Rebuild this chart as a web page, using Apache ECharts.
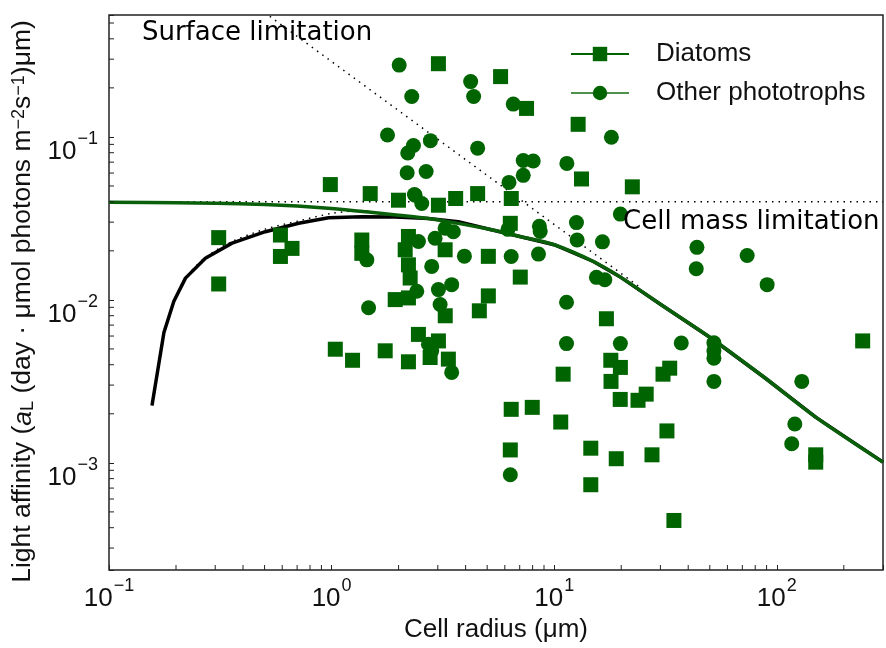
<!DOCTYPE html>
<html>
<head>
<meta charset="utf-8">
<script src="https://cdn.jsdelivr.net/npm/echarts@6/dist/echarts.min.js"></script>
<style>
  html, body { margin: 0; padding: 0; background: #fff; }
  #chart { width: 886px; height: 648px; }
</style>
</head>
<body>
<div id="chart"></div>
<script>
// axis limits (log axes)
var xMin = 0.1, xMax = 300;
var yMin = 2.2e-4, yMax = 0.56;

// minor tick positions
var xMinorTicks = [0.2, 0.3, 0.4, 0.5, 0.6, 0.7, 0.8, 0.9, 2, 3, 4, 5, 6, 7, 8, 9,
  20, 30, 40, 50, 60, 70, 80, 90, 200];
var yMinorTicks = [3e-4, 4e-4, 5e-4, 6e-4, 7e-4, 8e-4, 9e-4, 2e-3, 3e-3, 4e-3, 5e-3, 6e-3, 7e-3, 8e-3, 9e-3,
  2e-2, 3e-2, 4e-2, 5e-2, 6e-2, 7e-2, 8e-2, 9e-2, 0.2, 0.3, 0.4, 0.5];

// observations [cell radius, light affinity]
var diatoms = [
  [0.311, 0.0241], [0.311, 0.01252], [0.589, 0.0250], [0.589, 0.01847], [0.664, 0.0207],
  [0.987, 0.0510], [1.367, 0.0233], [1.367, 0.0193], [1.491, 0.0449], [2.214, 0.0245],
  [2.141, 0.0203], [2.214, 0.01641], [2.254, 0.01362], [1.931, 0.01004], [2.214, 0.01028],
  [3.236, 0.0203], [3.019, 0.0381], [1.997, 0.0409], [2.455, 0.00614], [3.019, 0.0056],
  [1.039, 0.00498], [1.242, 0.00426], [1.741, 0.00487], [2.214, 0.00417], [2.771, 0.00443],
  [3.346, 0.00433], [3.019, 0.2814], [5.743, 0.2345], [7.512, 0.1496], [12.81, 0.1195],
  [13.26, 0.0552], [22.44, 0.0494], [3.609, 0.0419], [4.530, 0.0449], [6.415, 0.0419],
  [17.16, 0.00766], [17.96, 0.00426], [19.83, 0.00385], [33.03, 0.00381], [30.82, 0.0035],
  [243.1, 0.0056], [10.97, 0.0035], [3.24, 0.00799], [4.61, 0.00857], [5.06, 0.01058],
  [5.06, 0.0185], [6.35, 0.0295], [6.41, 0.00213], [6.35, 0.0012], [7.04, 0.0138],
  [7.97, 0.00219], [10.7, 0.00178], [14.6, 0.00123], [14.6, 0.000734], [18.0, 0.00316],
  [19.8, 0.00245], [19.0, 0.00106], [23.8, 0.00242], [25.9, 0.00264], [27.5, 0.00112],
  [32.1, 0.00157], [34.5, 0.000443], [149.6, 0.00112], [149.6, 0.00101]
];
var others = [
  [2.012, 0.276], [2.291, 0.177], [4.214, 0.2186], [4.346, 0.177], [6.548, 0.159],
  [1.783, 0.1028], [2.332, 0.0885], [2.199, 0.0796], [2.779, 0.0949], [4.53, 0.0853],
  [7.26, 0.0717], [8.05, 0.0711], [11.40, 0.0688], [7.26, 0.0581], [2.185, 0.0603],
  [2.659, 0.0614], [6.265, 0.0526], [2.356, 0.0443], [18.07, 0.0996], [12.59, 0.0298],
  [12.68, 0.0233], [16.47, 0.0227], [19.83, 0.0336], [11.36, 0.00968], [15.48, 0.01375],
  [16.88, 0.0133], [43.78, 0.021], [43.46, 0.01552], [73.6, 0.01874], [90.5, 0.0124],
  [11.36, 0.00539], [19.83, 0.00539], [37.23, 0.00544], [52.18, 0.00546], [52.18, 0.00487],
  [52.18, 0.00439], [1.466, 0.00894], [2.373, 0.0439], [2.541, 0.039], [2.455, 0.0228],
  [2.817, 0.01605], [3.019, 0.01156], [3.463, 0.0124], [2.413, 0.0113], [3.072, 0.00936],
  [2.723, 0.00534], [2.817, 0.00487], [3.463, 0.00359], [3.236, 0.0275], [3.524, 0.0262],
  [2.917, 0.0239], [1.44, 0.0176], [3.95, 0.01855], [6.2, 0.0271], [6.41, 0.01847],
  [6.35, 0.000845], [8.5, 0.0191], [8.58, 0.02827], [8.65, 0.0263], [120.5, 0.00173],
  [116.7, 0.00131], [129.5, 0.00316], [52.18, 0.00316]
];

// model curves
var greenCurve = [
  [0.1, 0.0398], [0.2, 0.0395], [0.3, 0.0392], [0.5, 0.0385], [0.7, 0.0377], [1, 0.0364],
  [1.5, 0.0345], [2, 0.0331], [2.72, 0.0316], [3.5, 0.0299], [5, 0.0273], [7, 0.0245],
  [10, 0.0218], [15, 0.0172], [20, 0.0137], [30, 0.0094], [50, 0.0059], [88, 0.00334],
  [150, 0.0019], [300, 0.00101]
];
var blackCurve = [
  [0.156, 0.00225], [0.1765, 0.0063], [0.1956, 0.0098], [0.2206, 0.0136], [0.271, 0.018],
  [0.357, 0.0223], [0.504, 0.0262], [0.711, 0.0295], [0.969, 0.0319], [1.367, 0.0324],
  [1.93, 0.0322], [2.72, 0.0316], [3.71, 0.0302], [5, 0.0273], [7, 0.0245], [10, 0.0218],
  [15, 0.0172], [20, 0.0137], [30, 0.0094], [50, 0.0059], [88, 0.00334], [150, 0.0019],
  [300, 0.00101]
];
var dottedCurve = [
  [0.156, 0.00225], [0.1765, 0.0063], [0.1956, 0.0098], [0.2206, 0.0136], [0.271, 0.0182],
  [0.357, 0.0228], [0.5, 0.0271], [0.71, 0.0305], [1.0, 0.0339], [1.37, 0.0353], [1.5, 0.0348]
];
var surfaceLine = [[0.5, 0.58], [24.6, 0.0118]];
var massLine = [[0.1, 0.040], [300, 0.040]];

// annotation anchors
var annotations = [
  { name: 'Surface limitation', value: [0.1406, 0.4305] },
  { name: 'Cell mass limitation', value: [20.4, 0.0299] }
];

var green = '#006400';
var axisFont = 'Liberation Sans, Arial, Helvetica, sans-serif';

function powLabel(v) {
  var e = Math.log10(v);
  var r = Math.round(e);
  if (Math.abs(e - r) > 1e-6) return '';
  return '{b|10}{s|' + (r < 0 ? '\u2212' + (-r) : r) + '}';
}
var labelRich = {
  b: { fontSize: 26, lineHeight: 24, padding: [14, 0, 0, 0], verticalAlign: 'top', fontFamily: axisFont, color: '#111' },
  s: { fontSize: 18, lineHeight: 17, padding: [5, 0, 0, 1], verticalAlign: 'top', fontFamily: axisFont, color: '#111' }
};

var chart = echarts.init(document.getElementById('chart'));
chart.setOption({
  animation: false,
  backgroundColor: '#fff',
  grid: { left: 109, top: 15, width: 776, height: 558, show: true, borderColor: '#222', borderWidth: 1.5 },
  legend: {
    data: ['Diatoms', 'Other phototrophs'],
    orient: 'vertical',
    left: 565, top: 36,
    itemWidth: 58, itemHeight: 18, itemGap: 13,
    formatter: function (name) { return '{p|}' + name; },
    textStyle: {
      fontSize: 26, lineHeight: 26, fontFamily: axisFont, color: '#111',
      rich: { p: { width: 22 } }
    }
  },
  xAxis: {
    type: 'log', logBase: 10, min: xMin, max: xMax,
    name: 'Cell radius (\u03bcm)', nameLocation: 'middle', nameGap: 47,
    nameTextStyle: { fontSize: 26, fontFamily: axisFont, color: '#111' },
    axisLine: { show: false },
    axisTick: { inside: true, length: 5, lineStyle: { color: '#222', width: 1 } },
    splitLine: { show: false },
    axisLabel: { margin: 2, formatter: powLabel, rich: labelRich, showMinLabel: true, showMaxLabel: true }
  },
  yAxis: {
    type: 'log', logBase: 10, min: yMin, max: yMax,
    name: 'Light affinity ({i|a}{sub|L} (day \u00b7 \u03bcmol photons m{sup|\u22122}s{sup|\u22121})\u03bcm)',
    nameLocation: 'middle', nameGap: 63, nameRotate: 90,
    nameTextStyle: {
      fontSize: 26.5, fontFamily: axisFont, color: '#111', padding: [0, 18, 0, 0],
      rich: {
        i: { fontSize: 26.5, fontStyle: 'italic', fontFamily: axisFont, color: '#111' },
        sub: { fontSize: 18, verticalAlign: 'bottom', fontFamily: axisFont, color: '#111' },
        sup: { fontSize: 18, verticalAlign: 'top', fontFamily: axisFont, color: '#111' }
      }
    },
    axisLine: { show: false },
    axisTick: { inside: true, length: 5, lineStyle: { color: '#222', width: 1 } },
    splitLine: { show: false },
    axisLabel: { margin: 11, formatter: powLabel, rich: labelRich }
  },
  series: [
    // legend entries (line with marker)
    { name: 'Diatoms', type: 'line', data: [], symbol: 'rect', symbolSize: 15,
      itemStyle: { color: green }, lineStyle: { color: green, width: 1.3 } },
    { name: 'Other phototrophs', type: 'line', data: [], symbol: 'circle', symbolSize: 15,
      itemStyle: { color: green }, lineStyle: { color: '#4f924f', width: 1.3 } },
    // limitation asymptotes
    { type: 'line', data: massLine, symbol: 'none', silent: true,
      lineStyle: { color: '#000', width: 1.5, type: [1.5, 5] }, z: 2 },
    { type: 'line', data: surfaceLine, symbol: 'none', silent: true,
      lineStyle: { color: '#000', width: 1.5, type: [1.5, 5] }, z: 2 },
    { type: 'line', data: dottedCurve, symbol: 'none', silent: true, smooth: 0.3,
      lineStyle: { color: '#000', width: 1.5, type: [1.5, 5] }, z: 2 },
    // model curves
    { type: 'line', data: blackCurve, symbol: 'none', silent: true,
      lineStyle: { color: '#000', width: 3.5 }, z: 3 },
    { type: 'line', data: greenCurve, symbol: 'none', silent: true, smooth: 0.3,
      lineStyle: { color: '#0a5f0a', width: 3.5 }, z: 4 },
    // observations
    { name: 'Diatoms', type: 'scatter', data: diatoms, symbol: 'rect', symbolSize: 15,
      itemStyle: { color: green, opacity: 1 }, z: 5 },
    { name: 'Other phototrophs', type: 'scatter', data: others, symbol: 'circle', symbolSize: 15,
      itemStyle: { color: green, opacity: 1 }, z: 5 },
    // annotations
    { type: 'scatter', data: annotations, symbolSize: 0, silent: true, z: 6,
      itemStyle: { opacity: 1 },
      label: { show: true, position: 'right', distance: 0, formatter: '{b}', opacity: 1,
        fontSize: 26, fontFamily: 'DejaVu Sans, sans-serif', color: '#000' } },
    // minor ticks
    { type: 'custom', silent: true, z: 7, clip: false,
      data: xMinorTicks.map(function (v) { return [v, yMin]; }),
      renderItem: function (params, api) {
        var p = api.coord([api.value(0), api.value(1)]);
        return { type: 'line', shape: { x1: p[0], y1: p[1], x2: p[0], y2: p[1] - 5 },
          style: { stroke: '#222', lineWidth: 1 } };
      } },
    { type: 'custom', silent: true, z: 7, clip: false,
      data: yMinorTicks.map(function (v) { return [xMin, v]; }),
      renderItem: function (params, api) {
        var p = api.coord([api.value(0), api.value(1)]);
        return { type: 'line', shape: { x1: p[0], y1: p[1], x2: p[0] + 5, y2: p[1] },
          style: { stroke: '#222', lineWidth: 1 } };
      } }
  ]
});
</script>
</body>
</html>
